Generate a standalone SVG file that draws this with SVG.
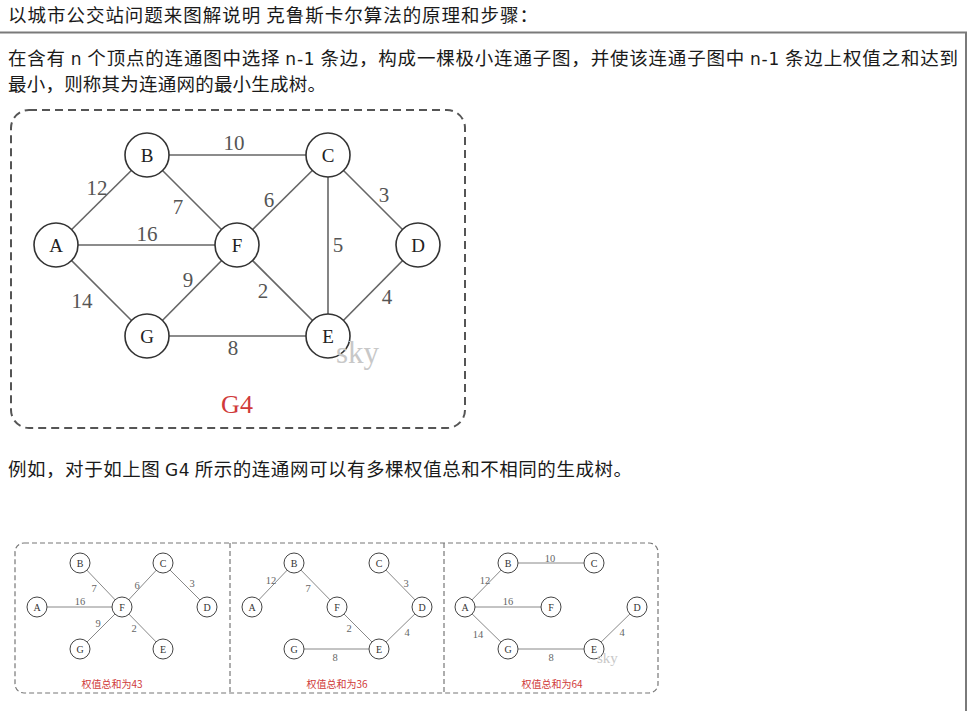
<svg xmlns="http://www.w3.org/2000/svg" width="969" height="711" viewBox="0 0 969 711">
  <style>
    .para { font-family: "Noto Sans CJK SC", "DejaVu Sans", sans-serif; font-size: 18.5px; fill: #1a1a1a; }
    .lat { font-family: "DejaVu Sans", "Noto Sans CJK SC", sans-serif; font-size: 17px; }
    .frame { stroke: #7a7a7a; stroke-width: 2; fill: none; }
    .box { fill: none; stroke: #555; stroke-width: 2; stroke-dasharray: 8 5; }
    .box-s { fill: none; stroke: #777; stroke-width: 1.2; stroke-dasharray: 5 3; }
    .edge { stroke: #666; stroke-width: 1.6; fill: none; }
    .edge-s { stroke: #888; stroke-width: 1; fill: none; }
    .node circle { fill: #fff; stroke: #333; stroke-width: 1.6; }
    .node text { font-family: "Liberation Serif", serif; font-size: 19px; fill: #222; text-anchor: middle; dominant-baseline: central; }
    .nodes circle { fill: #fff; stroke: #444; stroke-width: 1; }
    .nodes text { font-family: "Liberation Serif", serif; font-size: 10px; fill: #333; text-anchor: middle; dominant-baseline: central; }
    .w { font-family: "Liberation Serif", serif; font-size: 21px; fill: #555; text-anchor: middle; dominant-baseline: central; }
    .ws { font-family: "Liberation Serif", serif; font-size: 10.5px; fill: #666; text-anchor: middle; dominant-baseline: central; }
    .mark { font-family: "Liberation Serif", serif; fill: #c8c8c8; }
    .cap { font-family: "Noto Sans CJK SC", sans-serif; font-size: 10px; fill: #d03a3a; text-anchor: middle; dominant-baseline: central; }
  </style>

  <!-- heading -->
  <text class="para" x="8" y="22" textLength="530" lengthAdjust="spacing">以城市公交站问题来图解说明 克鲁斯卡尔算法的原理和步骤：</text>

  <!-- content frame -->
  <path class="frame" d="M0 32.5 H966 V711"/>

  <!-- definition paragraph -->
  <text class="para" x="8" y="65" textLength="950" lengthAdjust="spacing">在含有 <tspan class="lat">n</tspan> 个顶点的连通图中选择 <tspan class="lat">n-1</tspan> 条边，构成一棵极小连通子图，并使该连通子图中 <tspan class="lat">n-1</tspan> 条边上权值之和达到</text>
  <text class="para" x="8" y="91" textLength="318" lengthAdjust="spacing">最小，则称其为连通网的最小生成树。</text>

  <!-- graph G4 -->
  <rect class="box" x="11" y="110" width="454" height="318" rx="18"/>
  <g id="g4-edges">
    <line class="edge" x1="56" y1="245" x2="147" y2="155"/>
    <line class="edge" x1="147" y1="155" x2="328" y2="155"/>
    <line class="edge" x1="147" y1="155" x2="237" y2="245"/>
    <line class="edge" x1="56" y1="245" x2="237" y2="245"/>
    <line class="edge" x1="56" y1="245" x2="147" y2="336"/>
    <line class="edge" x1="237" y1="245" x2="328" y2="155"/>
    <line class="edge" x1="237" y1="245" x2="147" y2="336"/>
    <line class="edge" x1="237" y1="245" x2="328" y2="336"/>
    <line class="edge" x1="328" y1="155" x2="328" y2="336"/>
    <line class="edge" x1="328" y1="155" x2="418" y2="245"/>
    <line class="edge" x1="418" y1="245" x2="328" y2="336"/>
    <line class="edge" x1="147" y1="336" x2="328" y2="336"/>
    <text class="w" x="97" y="188">12</text>
    <text class="w" x="234" y="143">10</text>
    <text class="w" x="178" y="207">7</text>
    <text class="w" x="147" y="234">16</text>
    <text class="w" x="82" y="301">14</text>
    <text class="w" x="269" y="200">6</text>
    <text class="w" x="188" y="280">9</text>
    <text class="w" x="263" y="291">2</text>
    <text class="w" x="338" y="245">5</text>
    <text class="w" x="384" y="195">3</text>
    <text class="w" x="387" y="297">4</text>
    <text class="w" x="233" y="348">8</text>
  </g>
  <g id="g4-A" class="node"><circle cx="56" cy="245" r="22"/><text x="56" y="245">A</text></g>
  <g id="g4-B" class="node"><circle cx="147" cy="155" r="22"/><text x="147" y="155">B</text></g>
  <g id="g4-C" class="node"><circle cx="328" cy="155" r="22"/><text x="328" y="155">C</text></g>
  <g id="g4-D" class="node"><circle cx="418" cy="245" r="22"/><text x="418" y="245">D</text></g>
  <g id="g4-E" class="node"><circle cx="328" cy="336" r="22"/><text x="328" y="336">E</text></g>
  <g id="g4-F" class="node"><circle cx="237" cy="245" r="22"/><text x="237" y="245">F</text></g>
  <g id="g4-G" class="node"><circle cx="147" cy="336" r="22"/><text x="147" y="336">G</text></g>
  <text class="mark" x="336" y="363" font-size="31">sky</text>
  <text x="237" y="413" font-family="Liberation Serif, serif" font-size="26" fill="#d03a3a" text-anchor="middle">G4</text>

  <!-- example sentence -->
  <text class="para" x="8" y="476" textLength="624" lengthAdjust="spacing">例如，对于如上图 <tspan class="lat">G4</tspan> 所示的连通网可以有多棵权值总和不相同的生成树。</text>

  <!-- three spanning trees -->
  <rect class="box-s" x="15" y="543" width="643" height="150" rx="9"/>
  <line class="box-s" x1="230" y1="543" x2="230" y2="693"/>
  <line class="box-s" x1="444" y1="543" x2="444" y2="693"/>

  <!-- tree 1: total 43 -->
  <g id="t1-edges">
    <line class="edge-s" x1="80" y1="563" x2="122" y2="607"/>
    <line class="edge-s" x1="163" y1="563" x2="122" y2="607"/>
    <line class="edge-s" x1="163" y1="563" x2="207" y2="607"/>
    <line class="edge-s" x1="37" y1="607" x2="122" y2="607"/>
    <line class="edge-s" x1="80" y1="649" x2="122" y2="607"/>
    <line class="edge-s" x1="122" y1="607" x2="163" y2="649"/>
    <text class="ws" x="94" y="588">7</text>
    <text class="ws" x="137" y="585">6</text>
    <text class="ws" x="192" y="583">3</text>
    <text class="ws" x="80" y="601">16</text>
    <text class="ws" x="98" y="623">9</text>
    <text class="ws" x="134" y="628">2</text>
  </g>
  <g class="nodes">
    <g id="t1-A"><circle cx="37" cy="607" r="10"/><text x="37" y="607">A</text></g>
    <g id="t1-B"><circle cx="80" cy="563" r="10"/><text x="80" y="563">B</text></g>
    <g id="t1-C"><circle cx="163" cy="563" r="10"/><text x="163" y="563">C</text></g>
    <g id="t1-D"><circle cx="207" cy="607" r="10"/><text x="207" y="607">D</text></g>
    <g id="t1-E"><circle cx="163" cy="649" r="10"/><text x="163" y="649">E</text></g>
    <g id="t1-F"><circle cx="122" cy="607" r="10"/><text x="122" y="607">F</text></g>
    <g id="t1-G"><circle cx="80" cy="649" r="10"/><text x="80" y="649">G</text></g>
  </g>
  <text class="cap" x="112" y="683">权值总和为43</text>

  <!-- tree 2: total 36 -->
  <g id="t2-edges">
    <line class="edge-s" x1="252" y1="607" x2="294" y2="563"/>
    <line class="edge-s" x1="294" y1="563" x2="337" y2="607"/>
    <line class="edge-s" x1="337" y1="607" x2="379" y2="649"/>
    <line class="edge-s" x1="379" y1="563" x2="422" y2="607"/>
    <line class="edge-s" x1="422" y1="607" x2="379" y2="649"/>
    <line class="edge-s" x1="294" y1="649" x2="379" y2="649"/>
    <text class="ws" x="271" y="580">12</text>
    <text class="ws" x="308" y="588">7</text>
    <text class="ws" x="406" y="583">3</text>
    <text class="ws" x="349" y="628">2</text>
    <text class="ws" x="407" y="632">4</text>
    <text class="ws" x="335" y="657">8</text>
  </g>
  <g class="nodes">
    <g id="t2-A"><circle cx="252" cy="607" r="10"/><text x="252" y="607">A</text></g>
    <g id="t2-B"><circle cx="294" cy="563" r="10"/><text x="294" y="563">B</text></g>
    <g id="t2-C"><circle cx="379" cy="563" r="10"/><text x="379" y="563">C</text></g>
    <g id="t2-D"><circle cx="422" cy="607" r="10"/><text x="422" y="607">D</text></g>
    <g id="t2-E"><circle cx="379" cy="649" r="10"/><text x="379" y="649">E</text></g>
    <g id="t2-F"><circle cx="337" cy="607" r="10"/><text x="337" y="607">F</text></g>
    <g id="t2-G"><circle cx="294" cy="649" r="10"/><text x="294" y="649">G</text></g>
  </g>
  <text class="cap" x="337" y="683">权值总和为36</text>

  <!-- tree 3: total 64 -->
  <g id="t3-edges">
    <line class="edge-s" x1="465" y1="607" x2="508" y2="563"/>
    <line class="edge-s" x1="508" y1="563" x2="594" y2="563"/>
    <line class="edge-s" x1="465" y1="607" x2="551" y2="607"/>
    <line class="edge-s" x1="465" y1="607" x2="508" y2="649"/>
    <line class="edge-s" x1="508" y1="649" x2="594" y2="649"/>
    <line class="edge-s" x1="594" y1="649" x2="637" y2="607"/>
    <text class="ws" x="485" y="580">12</text>
    <text class="ws" x="550" y="558">10</text>
    <text class="ws" x="508" y="601">16</text>
    <text class="ws" x="478" y="634">14</text>
    <text class="ws" x="551" y="657">8</text>
    <text class="ws" x="622" y="632">4</text>
  </g>
  <g class="nodes">
    <g id="t3-A"><circle cx="465" cy="607" r="10"/><text x="465" y="607">A</text></g>
    <g id="t3-B"><circle cx="508" cy="563" r="10"/><text x="508" y="563">B</text></g>
    <g id="t3-C"><circle cx="594" cy="563" r="10"/><text x="594" y="563">C</text></g>
    <g id="t3-D"><circle cx="637" cy="607" r="10"/><text x="637" y="607">D</text></g>
    <g id="t3-E"><circle cx="594" cy="649" r="10"/><text x="594" y="649">E</text></g>
    <g id="t3-F"><circle cx="551" cy="607" r="10"/><text x="551" y="607">F</text></g>
    <g id="t3-G"><circle cx="508" cy="649" r="10"/><text x="508" y="649">G</text></g>
  </g>
  <text class="mark" x="597" y="663" font-size="15">sky</text>
  <text class="cap" x="552" y="683">权值总和为64</text>
</svg>
